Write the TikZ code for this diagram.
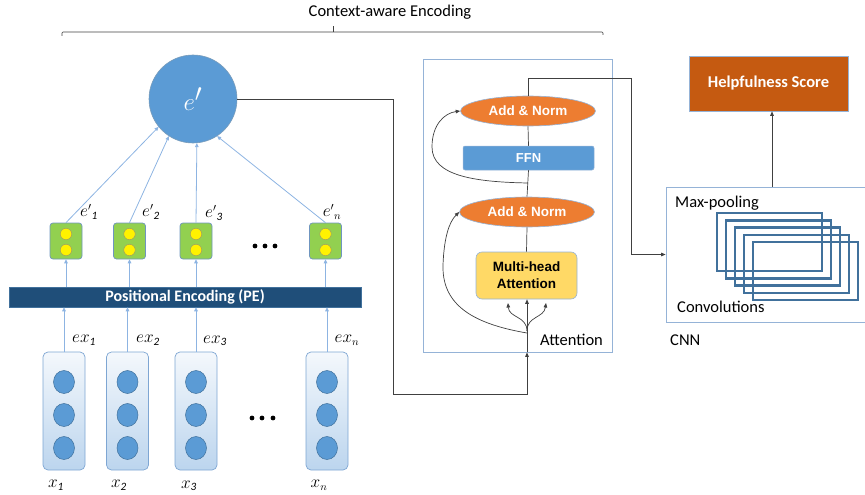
\documentclass[tikz,border=0pt]{standalone}
\usepackage{fontspec}
\setmainfont{Carlito}
\newfontfamily\arialf{Liberation Sans}
\usetikzlibrary{shapes.geometric,arrows.meta,calc}
\definecolor{cblue}{HTML}{5B9BD5}
\definecolor{dblue}{HTML}{41719C}
\definecolor{lblue}{HTML}{8DB4E2}
\definecolor{peblue}{HTML}{1F4E79}
\definecolor{gfill}{HTML}{92D050}
\definecolor{gborder}{HTML}{6F95C0}
\definecolor{xborder}{HTML}{7EA6D3}
\definecolor{xtop}{HTML}{F4F8FC}
\definecolor{xbot}{HTML}{BCD5EE}
\definecolor{orng}{HTML}{ED7D31}
\definecolor{yel}{HTML}{FFD966}
\definecolor{hsfill}{HTML}{C55A11}
\definecolor{attb}{HTML}{95B3D7}
\definecolor{dark}{HTML}{404040}
\definecolor{dotb}{HTML}{A0A060}
\begin{document}
\begin{tikzpicture}[x=1pt,y=-1pt,
  txt/.style={font=\fontsize{16.5}{18}\selectfont, inner sep=0},
  mlbl/.style={font=\fontsize{16}{17}\selectfont, inner sep=0},
  bluearr/.style={draw=lblue, line width=0.8pt, -{Triangle[length=4pt,width=3.6pt]}},
  blk/.style={draw=dark, line width=0.7pt},
  blkarr/.style={blk, -{Triangle[length=4.5pt,width=3.6pt]}},
  gbox/.style={rectangle, rounded corners=3pt, fill=gfill, draw=gborder, line width=0.7pt, minimum width=32, minimum height=36, inner sep=0},
  ydot/.style={circle, fill=yellow, draw=dotb, line width=0.5pt, minimum size=11.5, inner sep=0},
  xbox/.style={rectangle, rounded corners=5pt, top color=xtop, bottom color=xbot, draw=xborder, line width=0.7pt, minimum width=42, minimum height=118, inner sep=0},
  bdot/.style={ellipse, fill=cblue, draw=dblue, line width=0.5pt, minimum width=21, minimum height=23, inner sep=0},
  anorm/.style={ellipse, fill=orng, draw=attb, line width=0.6pt, minimum width=135, minimum height=30, inner sep=0, text=white, font=\arialf\bfseries\fontsize{13.5}{14}\selectfont},
  convr/.style={draw=dblue, line width=2.4pt}
]
\useasboundingbox (0,0) rectangle (865,495);

% title and bracket
\node[txt] (title) at (390,12) {Context-aware Encoding};
\draw[draw=dark, line width=0.6pt, rounded corners=1pt] (62,36) -- (62,32) -- (603,32) -- (603,35);
\draw[draw=dark, line width=0.6pt] (333,32) -- (333,26);

% e' circle
\node[circle, fill=cblue, draw=dblue!70, line width=0.6pt, minimum size=88, inner sep=0, text=white, font=\fontsize{34}{34}\selectfont] (ep) at (193,99) {$e'$};

% green boxes
\foreach \i/\x in {1/66,2/129.5,3/196,4/325.5}{
  \node[gbox] (g\i) at (\x,241) {};
  \node[ydot] (ya\i) at (\x,234) {};
  \node[ydot] (yb\i) at (\x,250) {};
}
\foreach \x in {255,265,275}{ \fill (\x,246) circle (2.4); }

% labels e'_i
\node[mlbl] (le1) at (89,212) {$e'{}_{\mathit{1}}$};
\node[mlbl] (le2) at (151,212) {$e'{}_{\mathit{2}}$};
\node[mlbl] (le3) at (214,213) {$e'{}_{\mathit{3}}$};
\node[mlbl] (le4) at (332,212) {$e'{}_{n}$};

% arrows into e'
\draw[bluearr] (g1.north) -- (ep.219);
\draw[bluearr] (g2.north) -- (ep.237);
\draw[bluearr] (g3.north) -- (ep.275);
\draw[bluearr] (g4.north) -- (ep.303);

% positional encoding bar
\node[rectangle, fill=peblue, draw=dblue, line width=0.6pt, minimum width=352, minimum height=20, inner sep=0, text=white, font=\bfseries\fontsize{16}{16}\selectfont] (pe) at (185,297) {Positional Encoding (PE)};

\foreach \i in {1,...,4}{
  \draw[bluearr] (g\i.south |- pe.north) -- (g\i.south);
}

% input boxes
\foreach \i/\x in {1/64,2/127.5,3/196,4/327}{
  \node[xbox] (b\i) at (\x,411) {};
  \node[bdot] (ba\i) at (\x,382) {};
  \node[bdot] (bb\i) at (\x,415) {};
  \node[bdot] (bc\i) at (\x,448) {};
  \draw[bluearr] (b\i.north) -- (b\i.north |- pe.south);
}
\foreach \x in {252,262,273}{ \fill (\x,418) circle (2.4); }

\node[mlbl] (lx1) at (84,340) {$ex_{\mathit{1}}$};
\node[mlbl] (lx2) at (148,340) {$ex_{\mathit{2}}$};
\node[mlbl] (lx3) at (215,341) {$ex_{\mathit{3}}$};
\node[mlbl] (lx4) at (347,340) {$ex_{n}$};

\node[mlbl] (x1) at (56,485) {$x_{\mathit{1}}$};
\node[mlbl] (x2) at (119,485) {$x_{\mathit{2}}$};
\node[mlbl] (x3) at (189,486) {$x_{\mathit{3}}$};
\node[mlbl] (x4) at (319,485) {$x_{n}$};

% attention block
\node[rectangle, draw=attb, line width=0.8pt, minimum width=189, minimum height=293, inner sep=0] (att) at (517.5,205.5) {};
\node[anorm] (an2) at (528,111) {Add \& Norm};
\node[rectangle, rounded corners=2pt, fill=cblue, draw=attb, line width=0.5pt, minimum width=131, minimum height=24, inner sep=0, text=white, font=\arialf\bfseries\fontsize{13}{14}\selectfont] (ffn) at (528.5,158) {FFN};
\node[anorm] (an1) at (527,212) {Add \& Norm};
\node[rectangle, rounded corners=6pt, fill=yel, draw=attb, line width=0.6pt, minimum width=101, minimum height=47, inner sep=0, align=center, font=\arialf\bfseries\fontsize{13.5}{17}\selectfont] (mha) at (526.5,275.5) {Multi-head\\Attention};
\node[txt, anchor=west] (attl) at (540,340) {Attention};

\coordinate (sp) at (527,333);
\coordinate (rs) at (528,183);

\draw[blk] (mha.north) -- (an1.south);
\draw[blk] (an1.north) -- (ffn.south);
\draw[blk] (ffn.north) -- (an2.south);

% residuals
\draw[blkarr] (rs) .. controls (475,182) and (432,176) .. (432,147) .. controls (432,124) and (445,113) .. (an2.west);
\draw[blkarr] (sp) .. controls (468,323) and (442,302) .. (443,265) .. controls (444,238) and (449,222) .. (an1.west);

% multi-head inputs
\draw[blk] (sp |- att.south) -- (sp);
\draw[blkarr] (sp) -- (sp |- mha.south);
\draw[blkarr] (527,331) .. controls (527,316) and (509,318) .. (508,303);
\draw[blkarr] (527,331) .. controls (527,316) and (544,318) .. (546,303);

% e' to attention
\coordinate (c1) at (393,394);
\draw[blkarr] (ep.east) -| (c1) -| (sp |- att.south);

% CNN
\node[rectangle, draw=attb, line width=0.8pt, minimum width=204, minimum height=135, inner sep=0] (cnn) at (768,254.5) {};
\foreach \k in {0,...,4}{
  \draw[convr] ({717+9*\k},{213+7.3*\k}) rectangle ++(105,58);
}
\node[txt, anchor=west] (mp) at (675,203) {Max-pooling};
\node[txt, anchor=west] (cv) at (677,307) {Convolutions};
\node[txt, anchor=west] (cnnl) at (670,340) {CNN};

\coordinate (c2) at (631,78);
\draw[blkarr] (an2.north) |- (c2) |- (cnn.west);

% helpfulness score
\node[rectangle, fill=hsfill, draw=attb, line width=0.6pt, minimum width=159, minimum height=55, inner sep=0, text=white, font=\bfseries\fontsize{16.5}{18}\selectfont] (hs) at (768.5,83.5) {Helpfulness Score};
\draw[blkarr] ([xshift=3.5pt]hs.south |- cnn.north) -- ([xshift=3.5pt]hs.south);
\end{tikzpicture}
\end{document}
